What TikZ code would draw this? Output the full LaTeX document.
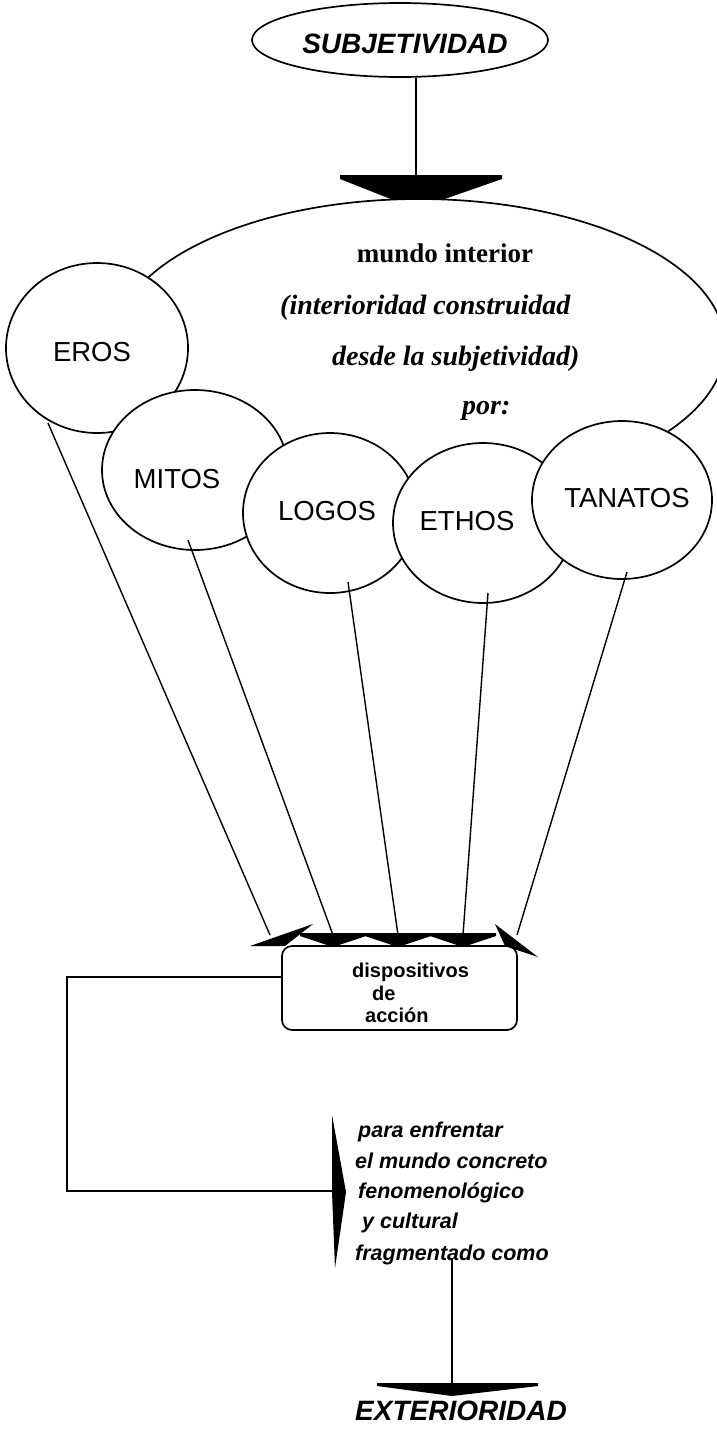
\documentclass[tikz,border=0pt]{standalone}
\usepackage{fontspec}
\setmainfont{Liberation Serif}
\setsansfont{Liberation Sans}
\usetikzlibrary{shapes.geometric}

\begin{document}
\begin{tikzpicture}[x=1pt,y=-1pt,
  bubble/.style={ellipse, draw, fill=white, line width=1.7pt, inner sep=0pt},
  conn/.style={line width=1.4pt},
  head/.style={fill=black},
  titletxt/.style={font=\fontsize{28}{30}\selectfont\sffamily\bfseries\itshape, inner sep=0pt},
  greek/.style={font=\fontsize{27.5}{30}\selectfont\sffamily, inner sep=0pt},
  serifb/.style={font=\fontsize{27}{30}\selectfont\rmfamily\bfseries, inner sep=0pt},
  serifbi/.style={font=\fontsize{28}{30}\selectfont\rmfamily\bfseries\itshape, inner sep=0pt},
  boxtxt/.style={font=\fontsize{20}{22}\selectfont\sffamily\bfseries, inner sep=0pt},
  sidetxt/.style={font=\fontsize{21.5}{24}\selectfont\sffamily\bfseries\itshape, inner sep=0pt}
]
\useasboundingbox (0,0) rectangle (717,1441);

% top ellipse and its arrow
\node[bubble, minimum width=296pt, minimum height=74pt] (subj) at (400,40) {};
\node[titletxt, anchor=base] (subjT) at (405,53) {SUBJETIVIDAD};
\coordinate (topHead) at (416,175);
\draw[conn] (subj.south -| topHead) -- (topHead);
\fill[head] (340,175) -- (502,175) -- (502,179) -- (416,209) -- (340,179) -- cycle;

% inner world
\node[bubble, minimum width=612pt, minimum height=294pt] (mundo) at (419,346) {};
\node[serifb, anchor=base] (t1) at (445,262) {mundo interior};
\node[serifbi, anchor=base west] (t2) at (280,314) {(interioridad construidad};
\node[serifbi, anchor=base west] (t3) at (332,365) {desde la subjetividad)};
\node[serifbi, anchor=base west] (t4) at (462,414) {por:};

% the five circles, each on top of the previous one
\node[bubble, minimum width=182pt, minimum height=170pt] (eros) at (97,348) {};
\node[bubble, minimum width=186pt, minimum height=160pt] (mitos) at (195,470) {};
\node[bubble, minimum width=174pt, minimum height=160pt] (logos) at (330,513) {};
\node[bubble, minimum width=180pt, minimum height=160pt] (ethos) at (483,523) {};
\node[bubble, minimum width=180pt, minimum height=158pt] (tanatos) at (622,500) {};

\node[greek, anchor=base] (erosT) at (92,361) {EROS};
\node[greek, anchor=base] (mitosT) at (177,488) {MITOS};
\node[greek, anchor=base] (logosT) at (327,520) {LOGOS};
\node[greek, anchor=base] (ethosT) at (467,530) {ETHOS};
\node[greek, anchor=base] (tanatosT) at (627,507) {TANATOS};

% connectors from the circles down to the action box
\coordinate (erosS) at (48,423);
\coordinate (mitosS) at (188,540);
\coordinate (logosS) at (348,582);
\coordinate (ethosS) at (488,593);
\coordinate (tanatosS) at (627,572);
\coordinate (hE) at (270,935);
\coordinate (hM) at (333,935);
\coordinate (hL) at (398,935);
\coordinate (hT) at (463,935);
\coordinate (hN) at (517,935);
\draw[conn] (erosS) -- (hE);
\draw[conn] (mitosS) -- (hM);
\draw[conn] (logosS) -- (hL);
\draw[conn] (ethosS) -- (hT);
\draw[conn] (tanatosS) -- (hN);

% arrowheads on top of the box
\fill[head] (250,946) -- (313,924) -- (285,946) -- cycle;
\foreach \hx in {333,398,463}
  \fill[head] (\hx-33,933) -- (\hx+33,933) -- (\hx+33,936) -- (\hx,947) -- (\hx-33,936) -- cycle;
\fill[head] (495,924) -- (538,957) -- (505,946) -- cycle;

% action box
\node[draw, rounded corners=10pt, line width=1.7pt, minimum width=235pt, minimum height=84pt, inner sep=0pt] (box) at (399.5,988) {};
\node[boxtxt, anchor=base west] (bx1) at (352,977) {dispositivos};
\node[boxtxt, anchor=base west] (bx2) at (372,1000) {de};
\node[boxtxt, anchor=base west] (bx3) at (365,1022) {acción};

% side connector to the description
\coordinate (turnA) at (67,977);
\coordinate (turnB) at (67,1191);
\coordinate (sideHead) at (334,1191);
\draw[line width=1.7pt] ([yshift=11pt]box.west) -- (turnA) -- (turnB) -- (sideHead);
\fill[head] (332,1115) -- (346,1192) -- (335,1268) -- (332,1192) -- cycle;

\node[sidetxt, anchor=base west] (s1) at (358,1137) {para enfrentar};
\node[sidetxt, anchor=base west] (s2) at (355,1168) {el mundo concreto};
\node[sidetxt, anchor=base west] (s3) at (358,1198) {fenomenológico};
\node[sidetxt, anchor=base west] (s4) at (362,1228) {y cultural};
\node[sidetxt, anchor=base west] (s5) at (355,1260) {fragmentado como};

% down to the exterior
\coordinate (fragBot) at (452,1258);
\coordinate (extHead) at (452,1383);
\draw[conn] (fragBot) -- (extHead);
\fill[head] (377,1383) -- (538,1383) -- (538,1386) -- (452,1396) -- (377,1386) -- cycle;
\node[titletxt, anchor=base] (ext) at (461,1420) {EXTERIORIDAD};
\end{tikzpicture}
\end{document}
